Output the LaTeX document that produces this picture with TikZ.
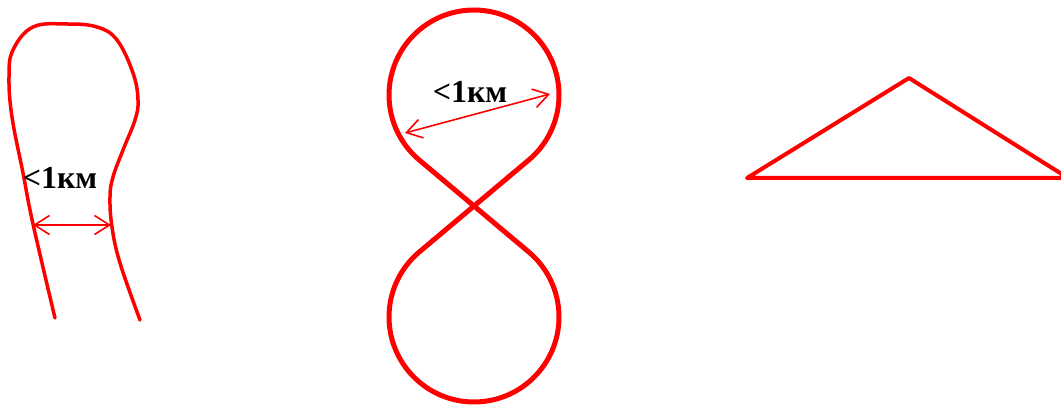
\documentclass[tikz,border=0pt]{standalone}
\usepackage{fontspec}
\setmainfont{Liberation Serif}
\usetikzlibrary{arrows.meta,calc,positioning}

\begin{document}
\begin{tikzpicture}[
    x=1pt, y=1pt,
    road/.style={draw=red, line width=3.5pt, line join=round, line cap=round},
    eight/.style={draw=red, line width=5pt, line join=round},
    dimarrow/.style={draw=red, line width=1.6pt, {Straight Barb[length=15pt,width=19pt]}-{Straight Barb[length=15pt,width=19pt]}},
    dist/.style={font=\fontsize{32}{38}\selectfont\bfseries, inner sep=0pt}
]
\useasboundingbox (0,0) rectangle (1061,405);
\clip (0,0) rectangle (1061,405);

% loop road
\draw[road] plot[smooth, tension=0.65] coordinates {
    (55,87) (33,181) (23,232) (12,288) (9,328) (13,355) (33,378) (67,381)
    (97,378) (117,365) (133,332) (138,305) (135,285) (123,255) (113,228)
    (110,208) (112,178) (120,142) (140,85)};
\coordinate (loopL) at (33,180);
\coordinate (loopR) at (111,180);
\draw[dimarrow] (loopL) -- (loopR);
\node[dist] (looplabel) at (60,227) {<1км};

% figure eight
\coordinate (cross) at (474,199);
\coordinate (topc) at (474,310);
\coordinate (botc) at (474,88);
\draw[eight] (cross) -- ($(topc)+(310:85)$) arc[start angle=310, end angle=590, radius=85pt]
    -- (cross) -- ($(botc)+(50:85)$) arc[start angle=50, end angle=-230, radius=85pt] -- cycle;
\coordinate (eightL) at (405,272);
\coordinate (eightR) at (550,311);
\draw[dimarrow] (eightL) -- (eightR);
\node[dist] (eightlabel) at (470,313) {<1км};

% triangle
\coordinate (triL) at (747,227);
\coordinate (triT) at (909,327);
\coordinate (triR) at (1068,227);
\draw[road, line width=4pt] (triL) -- (triT) -- (triR) -- cycle;
\end{tikzpicture}
\end{document}
